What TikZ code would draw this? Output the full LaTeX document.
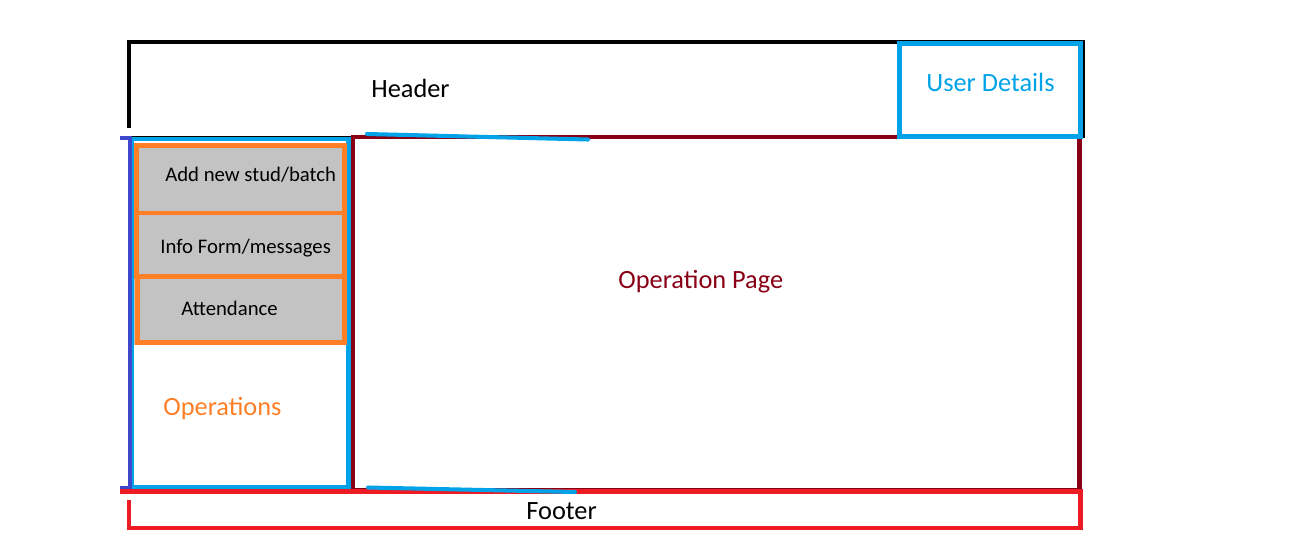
\documentclass[tikz,border=0pt]{standalone}
\usepackage{xcolor}
\usepackage{fontspec}
\setmainfont{Carlito}
\usepackage{tikz}
\usetikzlibrary{positioning}
\definecolor{mydarkred}{RGB}{136,0,21}
\definecolor{myred}{RGB}{237,28,36}
\definecolor{myorange}{RGB}{255,127,39}
\definecolor{myblue}{RGB}{0,162,232}
\definecolor{myindigo}{RGB}{63,72,204}
\definecolor{mygray}{RGB}{195,195,195}
\tikzset{
  frame/.style={line width=2.3pt},
  thinframe/.style={line width=1.2pt},
  bigtext/.style={anchor=base west, inner sep=0pt, font=\fontsize{15}{18}\selectfont},
  smalltext/.style={anchor=base west, inner sep=0pt, font=\fontsize{11.8}{14}\selectfont}
}

\begin{document}
\begin{tikzpicture}[x=0.02cm, y=-0.02cm]
  \useasboundingbox (0,0) rectangle (1298,541);

  % Header frame (open at the bottom)
  \draw[thinframe, black] (120,137.5) -- (1083,137.5);
  \draw[frame, black] (129,128) -- (129,42) -- (1083,42) -- (1083,138);

  % Operation page
  \draw[frame, mydarkred] (353,490) -- (353,137) -- (1079.5,137) -- (1079.5,490) -- cycle;
  \draw[frame, mydarkred] (353,137) -- (370,137);

  % Operations column
  \draw[frame, myblue] (132,139) rectangle (348.5,487.5);
  \draw[frame, mygray, fill=mygray] (136.5,145.5) rectangle (344.5,342.5);
  \draw[frame, myorange] (136.5,145.5) rectangle (344.5,213);
  \draw[frame, myorange] (136.5,213) rectangle (344.5,276.5);
  \draw[frame, myorange] (137.5,276.5) rectangle (344.5,342.5);
  \draw[frame, myindigo] (120,138) -- (130,138) -- (130,488.5) -- (120,488.5);

  % Footer
  \draw[frame, myred] (120,491.5) -- (1080.5,491.5) -- (1080.5,528) -- (129,528) -- (129,500);

  % Loose blue strokes
  \draw[frame, myblue, line cap=round] (367,134) -- (588,139.5);
  \draw[frame, myblue, line cap=round] (368,487.5) -- (575,492);

  % User details
  \draw[frame, myblue] (899.5,43.5) rectangle (1080.5,136.5);

  % Labels
  \node[bigtext] (header) at (371,97) {Header};
  \node[bigtext, text=myblue] (userdetails) at (926,91.7) {User Details};
  \node[bigtext, text=mydarkred] (oppage) at (618,288) {Operation Page};
  \node[bigtext, text=myorange] (operations) at (163,415) {Operations};
  \node[smalltext] (addstud) at (165,181.7) {Add new stud/batch};
  \node[smalltext] (infoform) at (160,253) {Info Form/messages};
  \node[smalltext] (attendance) at (181,315.7) {Attendance};
  \node[bigtext] (footer) at (526,519) {Footer};
\end{tikzpicture}
\end{document}
